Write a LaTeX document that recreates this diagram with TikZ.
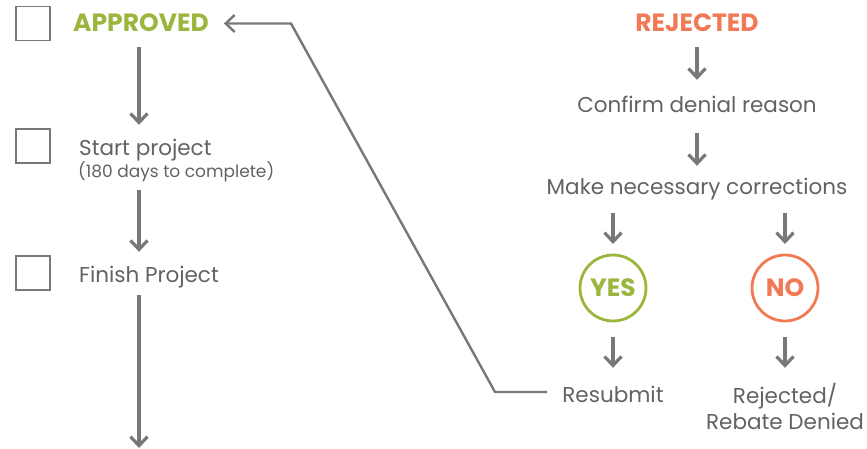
\documentclass[tikz,border=0pt]{standalone}
\usepackage{fontspec}
\setmainfont{Poppins}
\usetikzlibrary{arrows.meta}
\definecolor{linegray}{RGB}{120,120,120}
\definecolor{textgray}{RGB}{98,98,98}
\definecolor{okgreen}{RGB}{155,182,60}
\definecolor{nored}{RGB}{241,121,86}
\def \colYes{okgreen}
\def \colNo{nored}
\tikzset{
 tick/.style={draw=linegray, line width=1.8pt, minimum size=34pt, inner sep=0},
 stage/.style={text=textgray, font=\fontsize{21.5}{24}\selectfont, inner sep=0, text height=14pt, text depth=4pt},
 note/.style={text=textgray, font=\fontsize{17}{19}\selectfont, inner sep=0, text height=10pt, text depth=3pt},
 head/.style={font=\bfseries\fontsize{25}{28}\selectfont, inner sep=0, text height=17pt, text depth=0pt},
 choice/.style={circle, line width=2.8pt, minimum size=66pt, inner sep=0, outer sep=0, font=\bfseries\fontsize{25}{27}\selectfont},
 flow/.style={draw=linegray, line width=3.2pt, -{Straight Barb[length=9pt,width=17pt]}},
 back/.style={flow, line width=2.4pt},
}

\begin{document}
\begin{tikzpicture}[x=1pt, y=-1pt]
\useasboundingbox (0,0) rectangle (867,449);

\node[tick] (box1) at (33,23.5) {};
\node[tick] (box2) at (33,146) {};
\node[tick] (box3) at (33,273) {};
\node[head, text=\colYes, anchor=base west] (approved) at (73,32) {APPROVED};
\node[stage, anchor=base west] (start) at (79,156) {Start project};
\node[note, anchor=base west] (days) at (78,178) {(180 days to complete)};
\node[stage, anchor=base west] (finish) at (79,282) {Finish Project};
\coordinate (colA) at (139,0);
\coordinate (bottom) at (139,448);

\node[head, text=\colNo, anchor=base] (rejected) at (697,32) {REJECTED};
\node[stage, anchor=base] (confirm) at (697,113) {Confirm denial reason};
\node[stage, anchor=base] (fix) at (697,195) {Make necessary corrections};
\node[choice, draw=\colYes, text=\colYes] (yes) at (613,288) {YES};
\node[choice, draw=\colNo, text=\colNo] (no) at (785,288) {NO};
\node[stage, anchor=base] (resubmit) at (613,402) {Resubmit};
\node[stage, anchor=base] (denied1) at (785,403) {Rejected/};
\node[stage, anchor=base] (denied2) at (785,429) {Rebate Denied};

\draw[flow, shorten <=15pt, shorten >=17pt] (approved.south -| colA) -- (start.north -| colA);
\draw[flow, shorten <=9pt, shorten >=16pt] (days.south -| colA) -- (finish.north -| colA);
\draw[flow, shorten <=9pt] (finish.south -| colA) -- (bottom);

\draw[flow, shorten <=15pt, shorten >=19pt] (rejected) -- (confirm);
\draw[flow, shorten <=16pt, shorten >=15pt] (confirm.south) -- (fix.north);
\draw[flow, shorten <=14pt, shorten >=11pt] (fix.south -| yes) -- (yes);
\draw[flow, shorten <=14pt, shorten >=11pt] (fix.south -| no) -- (no);
\draw[flow, shorten <=16pt, shorten >=20pt] (yes) -- (resubmit.north);
\draw[flow, shorten <=16pt, shorten >=21pt] (no) -- (denied1.north);

\coordinate (turnlow) at (495,392);
\coordinate (turnx) at (291,0);
\coordinate (turnhigh) at (approved.east -| turnx);
\draw[back, shorten <=15pt, shorten >=15pt] (turnlow -| resubmit.west) -- (turnlow) -- (turnhigh) -- (approved.east);
\end{tikzpicture}
\end{document}
